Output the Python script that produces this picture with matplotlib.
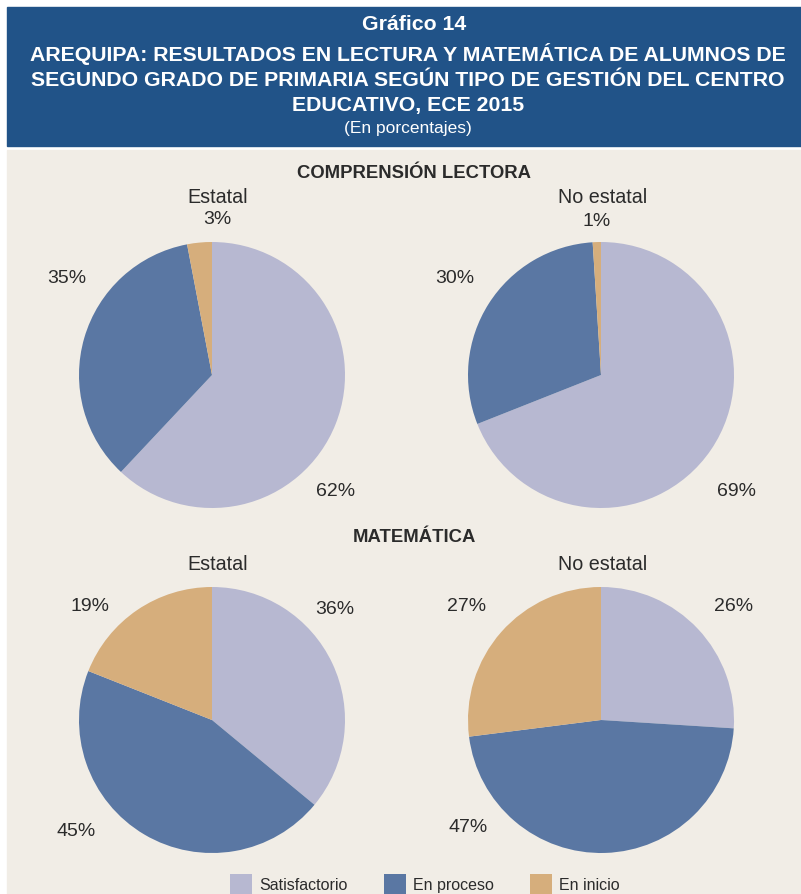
import matplotlib.pyplot as plt
from matplotlib.patches import Rectangle, Patch

plt.rcParams['font.family'] = ['Liberation Sans', 'DejaVu Sans']

# Data
categorias = ['Satisfactorio', 'En proceso', 'En inicio']
colores = ['#b7b8d1', '#5a77a3', '#d6ae7c']

lectura_estatal = [62, 35, 3]
lectura_no_estatal = [69, 30, 1]
mate_estatal = [36, 45, 19]
mate_no_estatal = [26, 47, 27]

# label offsets (in pie radius units), one per slice
pos_le = [(0.93, -0.87), (-1.09, 0.73), (0.04, 1.18)]
pos_lne = [(1.02, -0.87), (-1.10, 0.73), (-0.03, 1.16)]
pos_me = [(0.92, 0.84), (-1.02, -0.83), (-0.92, 0.86)]
pos_mne = [(1.00, 0.86), (-1.00, -0.80), (-1.01, 0.86)]

W, H = 801, 895
fig = plt.figure(figsize=(W / 100, H / 100), dpi=100)
fig.patch.set_facecolor('white')

# header band and beige panel
fig.patches.append(Rectangle((7 / W, (H - 147) / H), 1, 139 / H,
                             transform=fig.transFigure, color='#215388', zorder=-2))
fig.patches.append(Rectangle((7 / W, 0), 1, (H - 151) / H,
                             transform=fig.transFigure, color='#f1ede6', zorder=-2))

hdr = dict(color='white', ha='center', va='center', fontweight='bold', fontsize=15.3)
fig.text(414 / W, 1 - 25 / H, 'Gráfico 14', **hdr)
fig.text(408 / W, 1 - 54 / H, 'AREQUIPA: RESULTADOS EN LECTURA Y MATEMÁTICA DE ALUMNOS DE', **hdr)
fig.text(408 / W, 1 - 80 / H, 'SEGUNDO GRADO DE PRIMARIA SEGÚN TIPO DE GESTIÓN DEL CENTRO', **hdr)
fig.text(408 / W, 1 - 106 / H, 'EDUCATIVO, ECE 2015', **hdr)
fig.text(408 / W, 1 - 128 / H, '(En porcentajes)', color='white', ha='center',
         va='center', fontsize=12.5)

txt = '#2b2b2b'
fig.text(414 / W, 1 - 174 / H, 'COMPRENSIÓN LECTORA', color=txt, ha='center',
         va='center', fontweight='bold', fontsize=13.3)
fig.text(414 / W, 1 - 538 / H, 'MATEMÁTICA', color=txt, ha='center',
         va='center', fontweight='bold', fontsize=13.3)

R = 133
paneles = [
    (212, 376, lectura_estatal, pos_le, 'Estatal', 1.34),
    (601, 376, lectura_no_estatal, pos_lne, 'No estatal', 1.34),
    (212, 721, mate_estatal, pos_me, 'Estatal', 1.18),
    (601, 721, mate_no_estatal, pos_mne, 'No estatal', 1.18),
]

for cx, cy, vals, pos, nombre, ty in paneles:
    size = 2 * R * 1.6
    ax = fig.add_axes([(cx - size / 2) / W, (H - cy - size / 2) / H, size / W, size / H])
    ax.set_zorder(1)
    ax.pie(vals, colors=colores, startangle=90, counterclock=False, radius=1,
           wedgeprops=dict(linewidth=0))
    ax.set_xlim(-1.6, 1.6)
    ax.set_ylim(-1.6, 1.6)
    ax.set_aspect('equal')
    ax.axis('off')
    for v, (px, py) in zip(vals, pos):
        ax.text(px, py, f'{v}%', ha='center', va='center', fontsize=14, color=txt)
    ax.text(0.04 if nombre == 'Estatal' else 0.01, ty, nombre, ha='center',
            va='center', fontsize=14.2, color=txt)

handles = [Patch(facecolor=c, edgecolor='none') for c in colores]
leg = fig.legend(handles, categorias, loc='lower center', bbox_to_anchor=(425 / W, -14 / H),
                 ncol=3, frameon=False, fontsize=11.5, handlelength=1.35, handleheight=1.55,
                 columnspacing=2.3, handletextpad=0.45, labelcolor=txt)
leg.set_zorder(2)

fig.savefig('out.png', dpi=100, facecolor=fig.get_facecolor())
